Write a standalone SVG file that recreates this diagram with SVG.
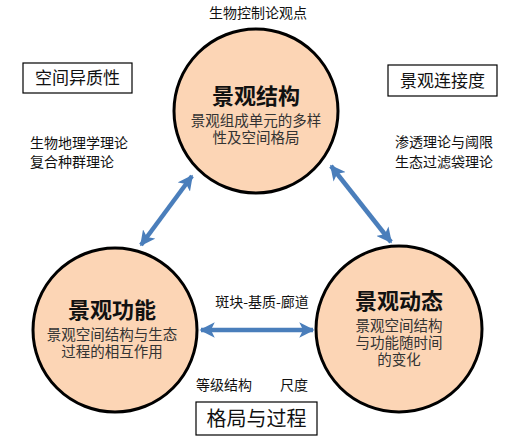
<svg xmlns="http://www.w3.org/2000/svg" width="522" height="448" viewBox="0 0 522 448">
<style>
text{font-family:"Noto Sans CJK SC","Liberation Sans",sans-serif;text-anchor:middle;fill:#111}
.node{fill:#FCD5B5;stroke:#000;stroke-width:3}
.title{font-size:22px;font-weight:bold}
.sub{font-size:14.5px;fill:#333}
.lbl{font-size:14px}
.box{fill:#fff;stroke:#000;stroke-width:1.2}
.boxt{font-size:17px}
.arr{stroke:#4A7EBB;stroke-width:4.5;fill:none;marker-start:url(#ah);marker-end:url(#ah)}
</style>
<defs>
<marker id="ah" viewBox="0 0 10 10" refX="9" refY="5" markerWidth="3.4" markerHeight="3.4" orient="auto-start-reverse" markerUnits="strokeWidth">
<path d="M0,0 L10,5 L0,10 L2.5,5 Z" fill="#4A7EBB"/>
</marker>
</defs>
<g id="connectors">
<line class="arr" x1="141" y1="245" x2="192" y2="176"/>
<line class="arr" x1="331" y1="166" x2="391" y2="242"/>
<line class="arr" x1="201" y1="330" x2="313" y2="330"/>
</g>
<g id="node-structure">
<circle class="node" cx="256" cy="111" r="82"/>
<text class="title" x="256" y="104">景观结构</text>
<text class="sub" x="256" y="126">景观组成单元的多样</text>
<text class="sub" x="256" y="143">性及空间格局</text>
</g>
<g id="node-function">
<circle class="node" cx="115" cy="330" r="82"/>
<text class="title" x="112" y="318">景观功能</text>
<text class="sub" x="112" y="340">景观空间结构与生态</text>
<text class="sub" x="112" y="357">过程的相互作用</text>
</g>
<g id="node-dynamics">
<circle class="node" cx="399" cy="329" r="83"/>
<text class="title" x="399" y="309">景观动态</text>
<text class="sub" x="399" y="331">景观空间结构</text>
<text class="sub" x="399" y="348">与功能随时间</text>
<text class="sub" x="399" y="365">的变化</text>
</g>
<g id="box-heterogeneity">
<rect class="box" x="23" y="63" width="109" height="30"/>
<text class="boxt" x="77.5" y="84">空间异质性</text>
</g>
<g id="box-connectivity">
<rect class="box" x="388" y="65" width="109" height="31"/>
<text class="boxt" x="442.5" y="87">景观连接度</text>
</g>
<g id="box-pattern">
<rect class="box" x="196" y="402" width="121" height="33"/>
<text x="256.5" y="426" style="font-size:20px">格局与过程</text>
</g>
<g id="labels">
<text class="lbl" x="258" y="18">生物控制论观点</text>
<text class="lbl" x="79" y="148">生物地理学理论</text>
<text class="lbl" x="72" y="167">复合种群理论</text>
<text class="lbl" x="444" y="147">渗透理论与阈限</text>
<text class="lbl" x="444" y="167">生态过滤袋理论</text>
<text class="lbl" x="262" y="307">斑块-基质-廊道</text>
<text class="lbl" x="224" y="390">等级结构</text>
<text class="lbl" x="294" y="390">尺度</text>
</g>
</svg>
